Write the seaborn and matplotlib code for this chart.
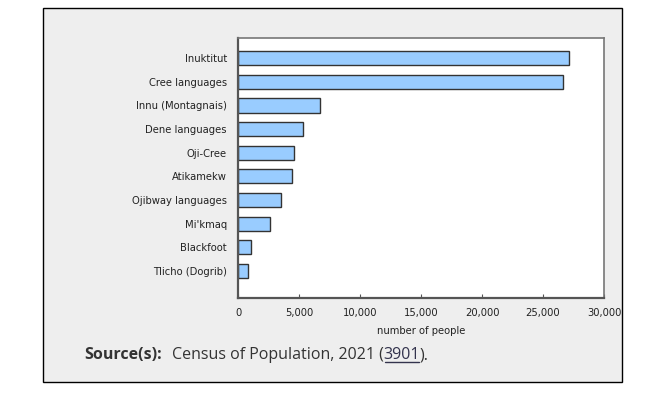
import matplotlib
matplotlib.use("Agg")
import matplotlib.pyplot as plt
import seaborn as sns
import pandas as pd
from matplotlib.patches import Rectangle
from matplotlib.lines import Line2D

languages = ["Inuktitut", "Cree languages", "Innu (Montagnais)", "Dene languages",
             "Oji-Cree", "Atikamekw", "Ojibway languages", "Mi'kmaq", "Blackfoot",
             "Tlicho (Dogrib)"]
people = [27100, 26650, 6750, 5300, 4600, 4400, 3550, 2650, 1050, 850]
xticks = [0, 5000, 10000, 15000, 20000, 25000, 30000]
xlabels = ["0", "5,000", "10,000", "15,000", "20,000", "25,000", "30,000"]

df = pd.DataFrame({"language": languages, "people": people})

sns.set_style("white")
plt.rcParams['font.family'] = ['DejaVu Sans']

W, H = 666, 400
fig = plt.figure(figsize=(W / 100, H / 100), dpi=100)
fig.patch.set_facecolor("white")

# grey panel with black border
panel = Rectangle((43 / W, 1 - 382 / H), (622 - 43) / W, (382 - 8) / H,
                  transform=fig.transFigure, facecolor="#eeeeee",
                  edgecolor="black", linewidth=1.0, zorder=-10)
fig.add_artist(panel)

ax = fig.add_axes([238 / W, 1 - 298 / H, (604 - 238) / W, (298 - 38) / H])
ax.set_zorder(5)
ax.set_facecolor("white")
sns.barplot(data=df, x="people", y="language", ax=ax, orient="h",
            color="#99ccff", edgecolor="#333333", linewidth=1.0, width=0.6,
            saturation=1)

ax.set_xlim(0, 30000)
ax.set_ylim(9 + 1.14, -0.85)
ax.set_xticks(xticks)
ax.set_xticklabels(xlabels, fontsize=7.2, color="#222222")
ax.tick_params(axis="y", labelsize=7.2, labelcolor="#222222", length=0, pad=8)
ax.tick_params(axis="x", length=3, width=0.8, color="#555555", direction="in",
               pad=7, bottom=True)
ax.set_ylabel("")
ax.set_xlabel("number of people", fontsize=7.2, color="#222222", labelpad=6)

for side in ["top", "right"]:
    ax.spines[side].set_visible(True)
    ax.spines[side].set_color("#777777")
    ax.spines[side].set_linewidth(1.2)
for side in ["left", "bottom"]:
    ax.spines[side].set_visible(True)
    ax.spines[side].set_color("#555555")
    ax.spines[side].set_linewidth(1.6)

# Source line
fs = 11.5
fam = ["Open Sans", "DejaVu Sans"]
t1 = fig.text(84 / W, 1 - 355 / H, "Source(s):", fontsize=fs, fontweight="bold",
              color="#333333", family=fam, va="center", zorder=6)
fig.canvas.draw()
r = fig.canvas.get_renderer()
bb = t1.get_window_extent(r)
t2 = fig.text(bb.x1 / W + 10 / W, 1 - 355 / H, "Census of Population, 2021 (",
              fontsize=fs, color="#333333", family=fam, va="center", zorder=6)
bb2 = t2.get_window_extent(r)
t3 = fig.text(bb2.x1 / W, 1 - 355 / H, "3901", fontsize=fs, color="#33334d",
              family=fam, va="center", zorder=6)
bb3 = t3.get_window_extent(r)
t4 = fig.text(bb3.x1 / W, 1 - 355 / H, ").", fontsize=fs, color="#333333",
              family=fam, va="center", zorder=6)
uy = bb3.y0 + 1.0
fig.add_artist(Line2D([bb3.x0 / W + 1 / W, bb3.x1 / W - 1 / W], [uy / H, uy / H],
                      transform=fig.transFigure, color="#33334d", linewidth=1.0))

fig.savefig("out.png", dpi=100, facecolor="white")
